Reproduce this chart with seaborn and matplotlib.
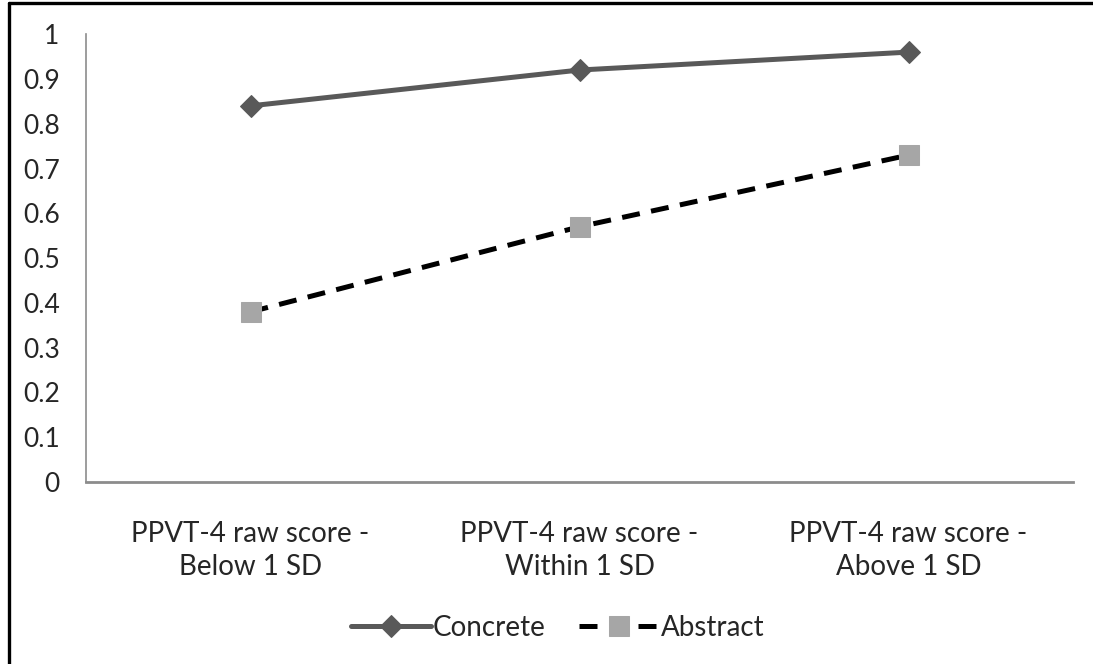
import matplotlib.pyplot as plt
import seaborn as sns
import pandas as pd
from matplotlib.lines import Line2D

categories = ["PPVT-4 raw score -\nBelow 1 SD",
              "PPVT-4 raw score -\nWithin 1 SD",
              "PPVT-4 raw score -\nAbove 1 SD"]
concrete = [0.84, 0.92, 0.96]
abstract = [0.38, 0.57, 0.73]
yticks = [0, 0.1, 0.2, 0.3, 0.4, 0.5, 0.6, 0.7, 0.8, 0.9, 1]

sns.set_style("white")
plt.rcParams['font.family'] = ['Lato', 'DejaVu Sans']

data = pd.DataFrame({"cat": categories, "Concrete": concrete, "Abstract": abstract})

fig = plt.figure(figsize=(10.93, 6.64), dpi=100)
ax = fig.add_axes([0.0787, 0.274, 0.903, 0.6745])

sns.lineplot(data=data, x="cat", y="Concrete", ax=ax, color='#595959', linewidth=3.6,
             marker='D', markersize=11.5, markerfacecolor='#595959', markeredgecolor='#595959',
             label="Concrete", sort=False)
sns.lineplot(data=data, x="cat", y="Abstract", ax=ax, color='black', linewidth=3.6,
             dashes=(3.6, 2.3), marker='s', markersize=14, markerfacecolor='#A6A6A6',
             markeredgecolor='#A6A6A6', label="Abstract", sort=False)

ax.set_xlim(-0.5, 2.5)
ax.set_ylim(0, 1)
ax.set_yticks(yticks)
ax.set_yticklabels([f"{v:g}" for v in yticks])
ax.set_xlabel("")
ax.set_ylabel("")
ax.tick_params(axis='y', length=0, pad=19, labelsize=19)
ax.tick_params(axis='x', length=0, pad=28, labelsize=20)
for lbl in ax.get_xticklabels():
    lbl.set_linespacing(1.35)
for s in ['top', 'right']:
    ax.spines[s].set_visible(False)
ax.spines['left'].set_color('#8c8c8c')
ax.spines['left'].set_linewidth(1.2)
ax.spines['bottom'].set_color('#8c8c8c')
ax.spines['bottom'].set_linewidth(2)

leg = ax.legend(loc='center', bbox_to_anchor=(0.478, -0.326), ncol=2, frameon=False,
                fontsize=20, handlelength=2.9, handletextpad=0.05, columnspacing=1.2)

# outer frame (left and top edges)
fig.add_artist(Line2D([0.0085, 0.0085], [0, 0.995], color='black', linewidth=2.4))
fig.add_artist(Line2D([0.0085, 1], [0.995, 0.995], color='black', linewidth=2.4))

fig.savefig("out.png", dpi=100)
